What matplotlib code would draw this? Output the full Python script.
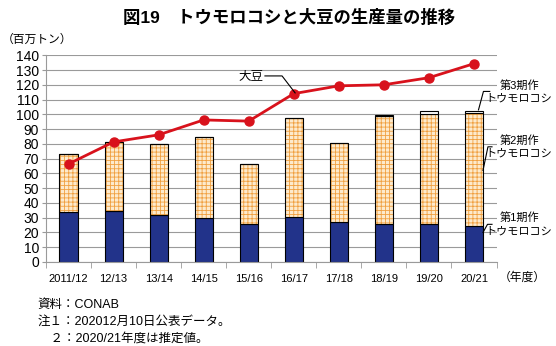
import matplotlib.pyplot as plt
import numpy as np

plt.rcParams['font.family'] = ['Liberation Sans', 'Noto Sans CJK JP']

years = ['2011/12', '12/13', '13/14', '14/15', '15/16', '16/17', '17/18', '18/19', '19/20', '20/21']
corn_1st = [34.0, 34.5, 31.7, 29.5, 25.7, 30.3, 27.0, 25.7, 25.7, 24.4]
corn_2nd = [39.0, 46.6, 48.0, 55.0, 40.5, 67.2, 53.5, 73.3, 74.8, 76.6]
corn_3rd = [0.0, 0.0, 0.0, 0.0, 0.0, 0.0, 0.0, 0.6, 1.9, 1.5]
soy = [66.4, 81.3, 86.1, 96.2, 95.4, 114.0, 119.3, 120.0, 124.8, 134.3]

x = np.arange(len(years))
w = 0.4
c1 = np.array(corn_1st)
c2 = np.array(corn_2nd)
c3 = np.array(corn_3rd)

fig = plt.figure(figsize=(5.56, 3.46), dpi=100)
ax = fig.add_axes([0.0827, 0.2428, 0.8103, 0.5975])

ax.set_axisbelow(True)
ax.grid(axis='y', color='#9a9a9a', lw=0.8)

# first crop: solid navy
ax.bar(x, c1, w, color='#22338a', edgecolor='black', lw=0.8, zorder=2)
# second crop: orange check pattern on cream
plt.rcParams['hatch.linewidth'] = 0.6
ax.bar(x, c2, w, bottom=c1, color='#fdeacc', edgecolor='#f0a040', hatch='++++', lw=0, zorder=2)
ax.bar(x, c2, w, bottom=c1, fill=False, edgecolor='black', lw=0.8, zorder=3)
# third crop: white
ax.bar(x, c3, w, bottom=c1 + c2, color='white', edgecolor='black', lw=0.8, zorder=3)

ax.plot(x, soy, color='#d8121c', lw=2, marker='o', ms=6.5, zorder=4)

ax.set_xlim(-0.5, len(years) - 0.5)
ax.set_ylim(0, 140)
ax.set_yticks(np.arange(0, 141, 10))
ax.tick_params(axis='y', labelsize=10, length=3, color='#9a9a9a', pad=2)
ax.set_xticks(x)
ax.set_xticklabels(years, fontsize=8)
ax.tick_params(axis='x', length=0, pad=9)
ax.set_xticks(np.arange(-0.5, len(years)), minor=True)
ax.tick_params(axis='x', which='minor', length=4, color='#9a9a9a')
for s in ['top', 'right']:
    ax.spines[s].set_visible(False)
for s in ['left', 'bottom']:
    ax.spines[s].set_color('#9a9a9a')

fig.text(0.52, 0.975, '図19　トウモロコシと大豆の生産量の推移', ha='center', va='top',
         fontsize=12.5, fontweight='bold')
fig.text(0.003, 0.885, '（百万トン）', fontsize=8.5, va='center')
fig.text(0.897, 0.198, '（年度）', fontsize=8.5, va='center')

# soybean label with leader
ax.text(4.32, 126, '大豆', fontsize=9, ha='right', va='center')
ax.plot([4.36, 4.74, 5.03], [126, 126, 114.5], color='black', lw=0.8, clip_on=False, zorder=5)

# corn stage labels on the right
lab_x = 10.0
ax.text(lab_x, 115.5, '第3期作\nトウモロコシ', fontsize=8, ha='center', va='center', linespacing=1.35)
ax.plot([9.1, 9.21, 9.35], [103.0, 115.5, 115.5], color='black', lw=0.8, clip_on=False, zorder=5)
ax.text(lab_x, 78, '第2期作\nトウモロコシ', fontsize=8, ha='center', va='center', linespacing=1.35)
ax.plot([9.2, 9.31, 9.4], [62, 78, 78], color='black', lw=0.8, clip_on=False, zorder=5)
ax.text(lab_x, 25.5, '第1期作\nトウモロコシ', fontsize=8, ha='center', va='center', linespacing=1.35)
ax.plot([9.2, 9.3, 9.4], [20, 25.5, 25.5], color='black', lw=0.8, clip_on=False, zorder=5)

notes = ['資料：CONAB', '注１：202012月10日公表データ。', '　２：2020/21年度は推定値。']
for i, t in enumerate(notes):
    fig.text(0.068, 0.118 - i * 0.048, t, fontsize=9, va='center')

fig.savefig('out.png', dpi=100)
